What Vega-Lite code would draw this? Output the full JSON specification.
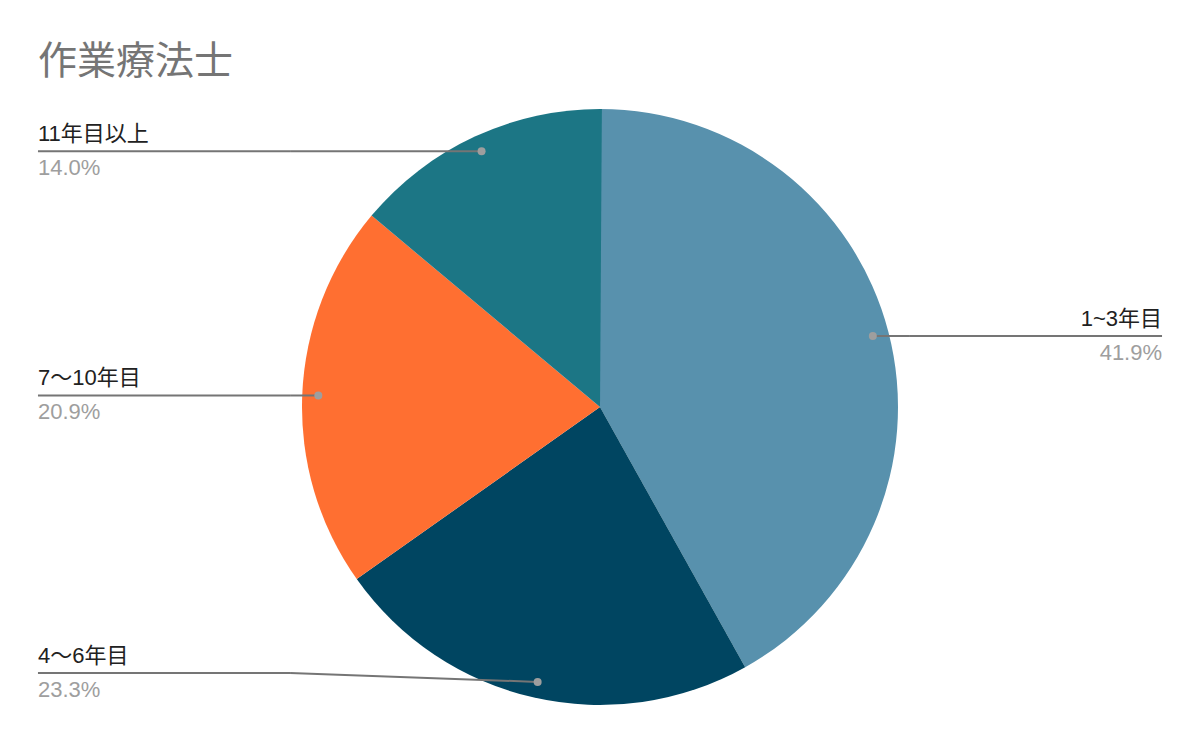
{
  "$schema": "https://vega.github.io/schema/vega-lite/v6.json",
  "width": 1200,
  "height": 742,
  "autosize": {"type": "fit", "contains": "padding"},
  "padding": 0,
  "background": "white",
  "title": {
    "text": "作業療法士",
    "anchor": "start",
    "fontSize": 39,
    "font": "Roboto, Noto Sans CJK JP",
    "fontWeight": "normal",
    "color": "#757575",
    "dx": 38,
    "dy": 82,
    "offset": 0
  },
  "config": {"view": {"stroke": null}},
  "data": {
    "values": [
      {"cat": "1~3年目", "pct": 41.9},
      {"cat": "4～6年目", "pct": 23.3},
      {"cat": "7～10年目", "pct": 20.9},
      {"cat": "11年目以上", "pct": 14.0}
    ]
  },
  "transform": [
    {"window": [{"op": "row_number", "as": "i"}]},
    {"window": [{"op": "sum", "field": "pct", "as": "cum"}], "sort": [{"field": "i"}], "frame": [null, 0]},
    {"calculate": "datum.cum - datum.pct", "as": "start"},
    {"calculate": "(datum.cum - datum.pct / 2) / 100 * 2 * PI", "as": "mid"},
    {"calculate": "0.946 * sin(datum.mid)", "as": "px"},
    {"calculate": "0.946 * cos(datum.mid)", "as": "py"},
    {"calculate": "datum.px < 0 ? -1 : 1", "as": "side"},
    {"calculate": "max(datum.py, -0.893)", "as": "ly"},
    {"calculate": "datum.side * 1.04", "as": "bx"},
    {"calculate": "datum.side * 1.886", "as": "ex"},
    {"calculate": "datum.pct / 100", "as": "frac"}
  ],
  "layer": [
    {
      "mark": {"type": "arc", "radius": 298},
      "encoding": {
        "x": {"datum": 0, "type": "quantitative", "scale": {"domain": [-2.0134, 2.0134], "nice": false, "zero": false}, "axis": null},
        "y": {"datum": 0, "type": "quantitative", "scale": {"domain": [-1.1242, 1.3658], "nice": false, "zero": false}, "axis": null},
        "theta": {"field": "start", "type": "quantitative", "scale": {"domain": [0, 100]}},
        "theta2": {"field": "cum"},
        "color": {
          "field": "cat",
          "type": "nominal",
          "scale": {
            "domain": ["1~3年目", "4～6年目", "7～10年目", "11年目以上"],
            "range": ["#5891AD", "#004561", "#FF6F31", "#1C7685"]
          },
          "legend": null
        }
      }
    },
    {
      "mark": {"type": "rule", "color": "#757575", "strokeWidth": 2},
      "encoding": {
        "x": {"field": "px", "type": "quantitative"},
        "y": {"field": "py", "type": "quantitative"},
        "x2": {"field": "bx"},
        "y2": {"field": "ly"}
      }
    },
    {
      "mark": {"type": "rule", "color": "#757575", "strokeWidth": 2},
      "encoding": {
        "x": {"field": "bx", "type": "quantitative"},
        "y": {"field": "ly", "type": "quantitative"},
        "x2": {"field": "ex"},
        "y2": {"field": "ly"}
      }
    },
    {
      "mark": {"type": "point", "filled": true, "size": 64, "color": "#9e9e9e", "opacity": 1},
      "encoding": {
        "x": {"field": "px", "type": "quantitative"},
        "y": {"field": "py", "type": "quantitative"}
      }
    },
    {
      "mark": {"type": "text", "fontSize": 22, "font": "Liberation Sans, Noto Sans CJK JP", "color": "#212121", "baseline": "alphabetic", "dy": -10, "align": {"expr": "datum.side < 0 ? 'left' : 'right'"}},
      "encoding": {
        "x": {"field": "ex", "type": "quantitative"},
        "y": {"field": "ly", "type": "quantitative"},
        "text": {"field": "cat"}
      }
    },
    {
      "mark": {"type": "text", "fontSize": 22, "font": "Liberation Sans, Noto Sans CJK JP", "color": "#9e9e9e", "baseline": "alphabetic", "dy": 24, "align": {"expr": "datum.side < 0 ? 'left' : 'right'"}},
      "encoding": {
        "x": {"field": "ex", "type": "quantitative"},
        "y": {"field": "ly", "type": "quantitative"},
        "text": {"field": "frac", "format": ".1%"}
      }
    }
  ]
}
